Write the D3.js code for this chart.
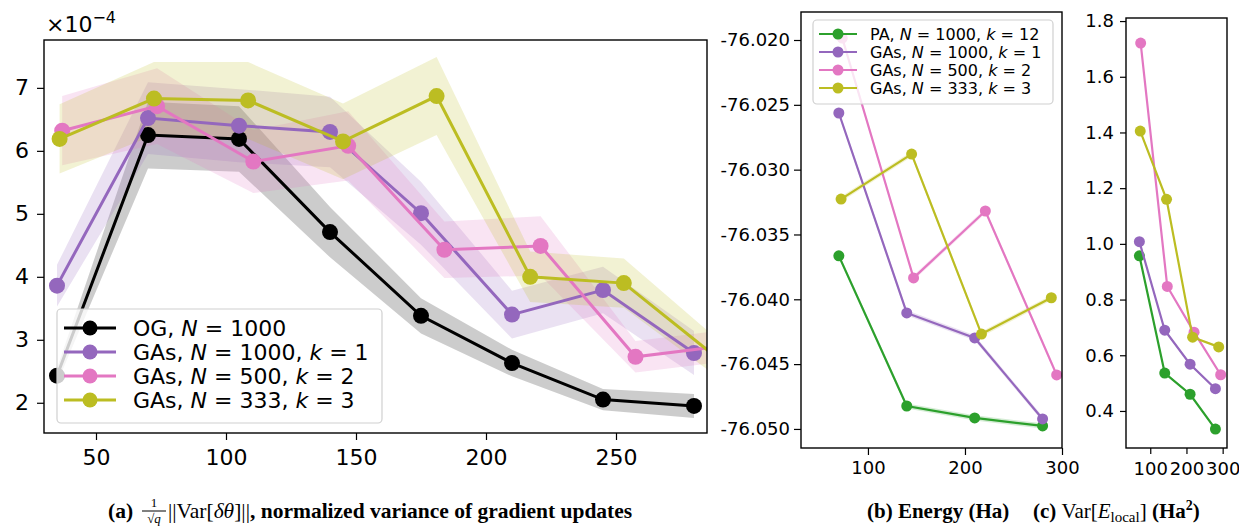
<!DOCTYPE html>
<html>
<head>
<meta charset="utf-8">
<script src="https://cdn.jsdelivr.net/npm/d3@7"></script>
<style>
  body { margin: 0; background: #fff; }
  svg { display: block; }
  text { font-family: "DejaVu Sans", sans-serif; fill: #000; }
  .cap { font-family: "Liberation Serif", "Times New Roman", serif; }
</style>
</head>
<body>
<script>
// ---- data ----

// panel (a): normalized variance of gradient updates (x1e-4)
var xN1000 = [35, 70, 105, 140, 175, 210, 245, 280];
var xN500 = [37, 73.5, 110.5, 147, 184, 221, 257.5, 294.5];
var xN333 = [36, 72.3, 108.5, 145, 181, 217, 253, 289];

var ogVar = [2.43, 6.25, 6.19, 4.71, 3.38, 2.63, 2.05, 1.95];
var ogErr = [0.12, 0.53, 0.52, 0.40, 0.28, 0.21, 0.17, 0.19];
var ga1Var = [3.86, 6.52, 6.40, 6.30, 5.01, 3.40, 3.79, 2.79];
var ga1Err = [0.33, 0.57, 0.58, 0.56, 0.50, 0.38, 0.37, 0.35];
var ga2Var = [6.32, 6.71, 5.83, 6.08, 4.43, 4.49, 2.73, 2.92];
var ga2Err = [0.55, 0.60, 0.50, 0.55, 0.45, 0.47, 0.25, 0.25];
var ga3Var = [6.19, 6.83, 6.80, 6.15, 6.87, 4.00, 3.90, 2.71];
var ga3Err = [0.55, 0.58, 0.61, 0.60, 0.62, 0.40, 0.39, 0.30];

// panels (b) and (c)
var xPA = [70, 140, 210, 280];
var xGA1 = [70, 140, 210, 280];
var xGA2 = [73.5, 147, 221, 294.5];
var xGA3 = [72.3, 145, 217, 289];

var paEnergy = [-76.03665, -76.04823, -76.04915, -76.04977];
var ga1Energy = [-76.02563, -76.04105, -76.04298, -76.04923];
var ga2Energy = [-76.01985, -76.03835, -76.03319, -76.04583];
var ga3Energy = [-76.03227, -76.02880, -76.04268, -76.03988];
var energyErr = [0.0002, 0.0002, 0.0002, 0.0002];

var paVarE = [0.957, 0.536, 0.46, 0.335];
var ga1VarE = [1.008, 0.69, 0.568, 0.48];
var ga2VarE = [1.721, 0.847, 0.683, 0.53];
var ga3VarE = [1.405, 1.16, 0.665, 0.63];
var varEErr = [0.006, 0.004, 0.004, 0.003];

// ticks
var aXTicks = [50, 100, 150, 200, 250];
var aYTicks = [2, 3, 4, 5, 6, 7];
var bXTicks = [100, 200, 300];
var bYTicks = [-76.050, -76.045, -76.040, -76.035, -76.030, -76.025, -76.020];
var cXTicks = [100, 200, 300];
var cYTicks = [0.4, 0.6, 0.8, 1.0, 1.2, 1.4, 1.6, 1.8];

var colOG = "#000000", colPA = "#2ca02c", colGA1 = "#9467bd", colGA2 = "#e377c2", colGA3 = "#bcbd22";

var svg = d3.select("body").append("svg")
    .attr("width", 1239)
    .attr("height", 529);

// draws one panel: frame, axes, bands, lines, markers
function drawPanel(cfg) {
    var x = d3.scaleLinear().domain(cfg.xDomain).range([cfg.box.l, cfg.box.r]);
    var y = d3.scaleLinear().domain(cfg.yDomain).range([cfg.box.b, cfg.box.t]);

    var clipId = "clip-" + cfg.id;
    svg.append("clipPath").attr("id", clipId)
        .append("rect")
        .attr("x", cfg.box.l).attr("y", cfg.box.t)
        .attr("width", cfg.box.r - cfg.box.l)
        .attr("height", cfg.box.b - cfg.box.t);

    var g = svg.append("g").attr("clip-path", "url(#" + clipId + ")");

    // bands first (below every line, as in matplotlib)
    cfg.series.forEach(function(s) {
        var pts = s.x.map(function(v, i) { return {x: v, y: s.y[i], e: s.err[i]}; });
        var area = d3.area()
            .x(function(d) { return x(d.x); })
            .y0(function(d) { return y(d.y - d.e); })
            .y1(function(d) { return y(d.y + d.e); });
        g.append("path").datum(pts)
            .attr("d", area)
            .attr("fill", s.color)
            .attr("fill-opacity", 0.2);
    });

    cfg.series.forEach(function(s) {
        var pts = s.x.map(function(v, i) { return {x: v, y: s.y[i]}; });
        var line = d3.line()
            .x(function(d) { return x(d.x); })
            .y(function(d) { return y(d.y); });
        g.append("path").datum(pts)
            .attr("d", line)
            .attr("fill", "none")
            .attr("stroke", s.color)
            .attr("stroke-width", cfg.lw);
        g.selectAll(null).data(pts).enter()
            .append("circle")
            .attr("cx", function(d) { return x(d.x); })
            .attr("cy", function(d) { return y(d.y); })
            .attr("r", cfg.mr)
            .attr("fill", s.color);
    });

    // axes
    var xAxis = svg.append("g")
        .attr("transform", "translate(0," + cfg.box.b + ")")
        .call(d3.axisBottom(x).tickValues(cfg.xTicks).tickSize(cfg.tick).tickPadding(cfg.xPad).tickFormat(d3.format("d")));
    var yAxis = svg.append("g")
        .attr("transform", "translate(" + cfg.box.l + ",0)")
        .call(d3.axisLeft(y).tickValues(cfg.yTicks).tickSize(cfg.tick).tickPadding(cfg.yPad).tickFormat(cfg.yFmt));
    [xAxis, yAxis].forEach(function(ax) {
        ax.select(".domain").remove();
        ax.selectAll(".tick line").attr("stroke", "#000").attr("stroke-width", 1.2);
        ax.selectAll(".tick text")
            .style("font-family", "DejaVu Sans, sans-serif")
            .style("font-size", cfg.fs + "px")
            .attr("fill", "#000");
    });

    svg.append("rect")
        .attr("x", cfg.box.l).attr("y", cfg.box.t)
        .attr("width", cfg.box.r - cfg.box.l)
        .attr("height", cfg.box.b - cfg.box.t)
        .attr("fill", "none")
        .attr("stroke", "#000")
        .attr("stroke-width", 1.4);
}

// legend with mathtext-like labels: parts = [[text, italic], ...]
function drawLegend(box, rows, o) {
    svg.append("rect")
        .attr("x", box.l).attr("y", box.t)
        .attr("width", box.r - box.l).attr("height", box.b - box.t)
        .attr("rx", 4)
        .attr("fill", "#fff").attr("fill-opacity", 0.8)
        .attr("stroke", "#d0d0d0").attr("stroke-width", 1.2);
    rows.forEach(function(row, i) {
        var yy = o.y0 + i * o.dy;
        svg.append("line")
            .attr("x1", o.lx1).attr("x2", o.lx2)
            .attr("y1", yy).attr("y2", yy)
            .attr("stroke", row.color).attr("stroke-width", o.lw);
        svg.append("circle")
            .attr("cx", (o.lx1 + o.lx2) / 2).attr("cy", yy)
            .attr("r", o.mr).attr("fill", row.color);
        var t = svg.append("text")
            .attr("x", o.tx).attr("y", yy)
            .attr("dy", "0.36em")
            .style("font-size", o.fs + "px");
        row.parts.forEach(function(p) {
            t.append("tspan")
                .style("font-style", p[1] ? "italic" : "normal")
                .text(p[0]);
        });
    });
}

function label(name, n, k) {
    var parts = [[name + ", ", false], ["N", true], [" = " + n, false]];
    if (k !== null) {
        parts.push([", ", false], ["k", true], [" = " + k, false]);
    }
    return parts;
}

// ---- panel (a) ----
drawPanel({
    id: "a",
    box: {l: 44, r: 707, t: 40, b: 433},
    xDomain: [30, 285], yDomain: [1.52, 7.76],
    xTicks: aXTicks, yTicks: aYTicks,
    yFmt: d3.format("d"),
    fs: 22, tick: 7, xPad: 9, yPad: 8,
    lw: 3, mr: 8,
    series: [
        {x: xN1000, y: ogVar, err: ogErr, color: colOG},
        {x: xN1000, y: ga1Var, err: ga1Err, color: colGA1},
        {x: xN500, y: ga2Var, err: ga2Err, color: colGA2},
        {x: xN333, y: ga3Var, err: ga3Err, color: colGA3}
    ]
});

// offset text x10^-4
var off = svg.append("text").attr("x", 46).attr("y", 32).style("font-size", "22px");
off.append("tspan").text("\u00d710");
off.append("tspan").attr("dy", -9).style("font-size", "16px").text("\u22124");

drawLegend({l: 57, r: 382, t: 309, b: 423}, [
    {color: colOG, parts: label("OG", 1000, null)},
    {color: colGA1, parts: label("GAs", 1000, 1)},
    {color: colGA2, parts: label("GAs", 500, 2)},
    {color: colGA3, parts: label("GAs", 333, 3)}
], {y0: 328, dy: 24, lx1: 64, lx2: 116, tx: 133, fs: 22, lw: 3, mr: 7.5});

// ---- panel (b) ----
drawPanel({
    id: "b",
    box: {l: 801, r: 1062, t: 12, b: 448},
    xDomain: [31, 300], yDomain: [-76.05147, -76.01784],
    xTicks: bXTicks, yTicks: bYTicks,
    yFmt: function(d) { return d.toFixed(3).replace("\u2212", "-"); },
    fs: 18, tick: 7, xPad: 6, yPad: 4,
    lw: 2.2, mr: 5.5,
    series: [
        {x: xPA, y: paEnergy, err: energyErr, color: colPA},
        {x: xGA1, y: ga1Energy, err: energyErr, color: colGA1},
        {x: xGA2, y: ga2Energy, err: energyErr, color: colGA2},
        {x: xGA3, y: ga3Energy, err: energyErr, color: colGA3}
    ]
});

drawLegend({l: 813, r: 1053, t: 20, b: 104}, [
    {color: colPA, parts: label("PA", 1000, 12)},
    {color: colGA1, parts: label("GAs", 1000, 1)},
    {color: colGA2, parts: label("GAs", 500, 2)},
    {color: colGA3, parts: label("GAs", 333, 3)}
], {y0: 34, dy: 18, lx1: 819, lx2: 857, tx: 870, fs: 16, lw: 2.2, mr: 5.5});

// ---- panel (c) ----
drawPanel({
    id: "c",
    box: {l: 1126, r: 1227, t: 18, b: 448},
    xDomain: [33, 312], yDomain: [0.267, 1.811],
    xTicks: cXTicks, yTicks: cYTicks,
    yFmt: d3.format(".1f"),
    fs: 18, tick: 6, xPad: 8, yPad: 6,
    lw: 2.2, mr: 5.5,
    series: [
        {x: xPA, y: paVarE, err: varEErr, color: colPA},
        {x: xGA1, y: ga1VarE, err: varEErr, color: colGA1},
        {x: xGA2, y: ga2VarE, err: varEErr, color: colGA2},
        {x: xGA3, y: ga3VarE, err: varEErr, color: colGA3}
    ]
});

// ---- captions ----
var capY = 518;
svg.append("text").attr("class", "cap").attr("x", 108).attr("y", capY)
    .style("font-size", "21.5px").style("font-weight", "bold").text("(a)");
// fraction 1/sqrt(q)
svg.append("text").attr("class", "cap").attr("x", 154).attr("y", 507)
    .attr("text-anchor", "middle").style("font-size", "13px").text("1");
svg.append("line").attr("x1", 142).attr("x2", 166).attr("y1", 511).attr("y2", 511)
    .attr("stroke", "#000").attr("stroke-width", 1);
svg.append("text").attr("class", "cap").attr("x", 154).attr("y", 523)
    .attr("text-anchor", "middle").style("font-size", "13px")
    .html("\u221a<tspan font-style='italic'>q</tspan>");
var capA = svg.append("text").attr("class", "cap").attr("x", 168).attr("y", capY)
    .style("font-size", "21.5px");
capA.append("tspan").text("||Var[");
capA.append("tspan").style("font-style", "italic").text("\u03b4\u03b8");
capA.append("tspan").text("]||");
capA.append("tspan").style("font-weight", "bold").text(", normalized variance of gradient updates");

svg.append("text").attr("class", "cap").attr("x", 867).attr("y", capY)
    .style("font-size", "21px").style("font-weight", "bold").text("(b) Energy (Ha)");

var capC = svg.append("text").attr("class", "cap").attr("x", 1033).attr("y", capY)
    .style("font-size", "21px");
capC.append("tspan").style("font-weight", "bold").text("(c) ");
capC.append("tspan").text("Var[");
capC.append("tspan").style("font-style", "italic").text("E");
capC.append("tspan").attr("dy", 4).style("font-size", "15px").text("local");
capC.append("tspan").attr("dy", -4).text("]  ");
capC.append("tspan").style("font-weight", "bold").text("(Ha");
capC.append("tspan").attr("dy", -8).style("font-size", "14px").style("font-weight", "bold").text("2");
capC.append("tspan").attr("dy", 8).style("font-weight", "bold").text(")");
</script>
</body>
</html>
